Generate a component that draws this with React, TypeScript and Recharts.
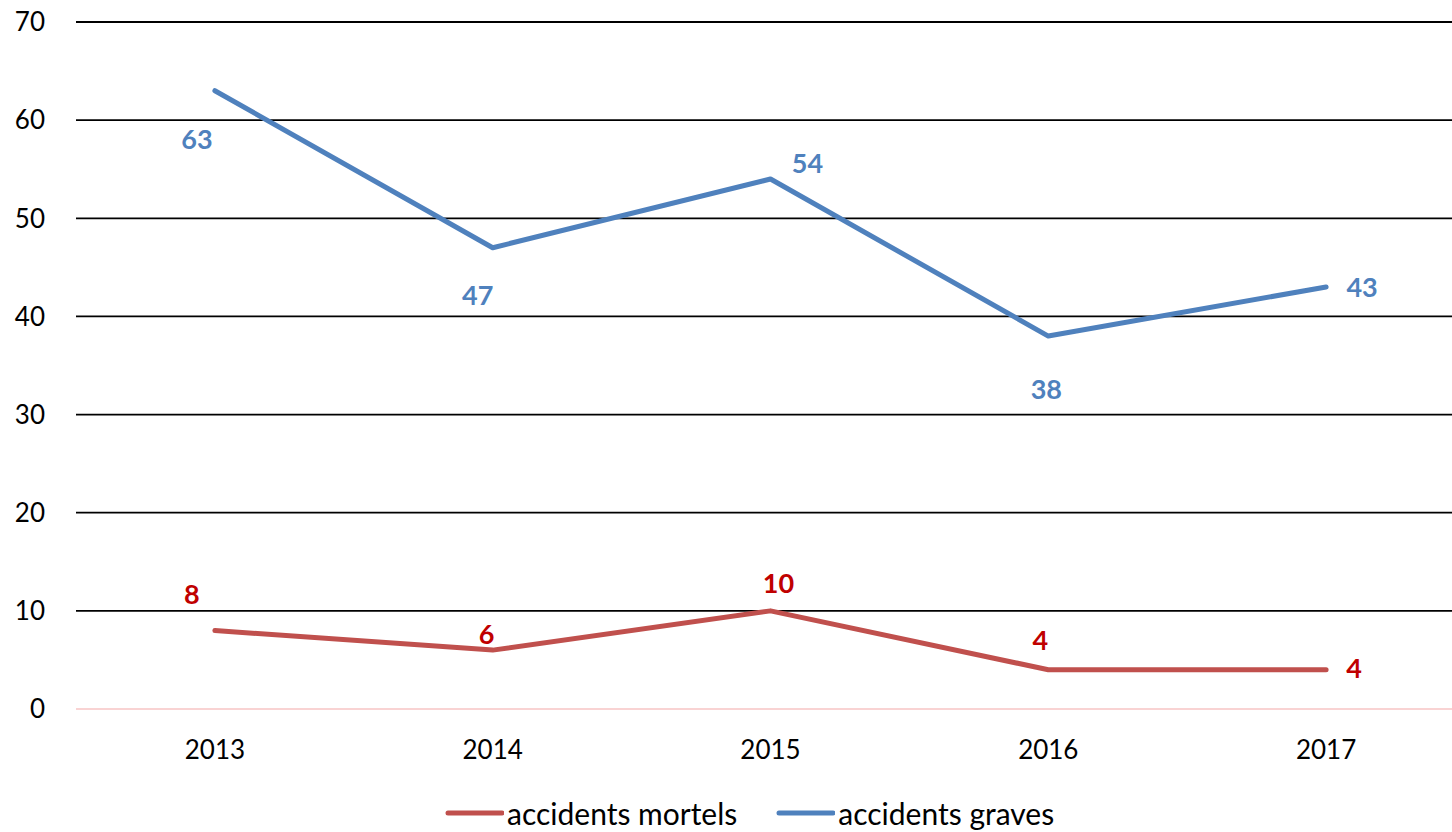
import React from 'react';
import { LineChart, Line, XAxis, YAxis, ReferenceLine } from 'recharts';

const years = ['2013', '2014', '2015', '2016', '2017'];
const mortels = [8, 6, 10, 4, 4];
const graves = [63, 47, 54, 38, 43];
const yTicks = [0, 10, 20, 30, 40, 50, 60, 70];
const seriesNames = ['accidents mortels', 'accidents graves'];

const data = years.map((y, i) => ({ year: y, mortels: mortels[i], graves: graves[i] }));

const gravesOffsets = [[-18, 48], [-15, 47], [37, -17], [-2, 52], [36, 0]];
const mortelsOffsets = [[-23, -37], [-6, -17], [8, -28], [-8, -30], [28, -2]];

const FONT = 'Lato, "Open Sans", sans-serif';
const BLUE = '#4F81BD';
const RED = '#C0504D';
const RED_LABEL = '#C00000';

const makeLabel = (offsets: number[][], color: string) => (props: any) => {
  const { x, y, index, value } = props;
  const o = offsets[index] || [0, -20];
  return (
    <text
      x={x + o[0]}
      y={y + o[1]}
      textAnchor="middle"
      dominantBaseline="central"
      fill={color}
      fontFamily={FONT}
      fontWeight={700}
      fontSize={27}
    >
      {value}
    </text>
  );
};

const LegendBox = () => {
  const items = [
    { name: seriesNames[0], color: RED },
    { name: seriesNames[1], color: BLUE },
  ];
  return (
    <div
      style={{
        position: 'absolute',
        left: 444,
        top: 798,
        display: 'flex',
        alignItems: 'center',
        fontFamily: FONT,
        fontSize: 30,
        color: '#000',
        whiteSpace: 'nowrap',
      }}
    >
      {items.map((it, i) => (
        <div key={it.name} style={{ display: 'flex', alignItems: 'center', marginLeft: i ? 38 : 0 }}>
          <svg width={60} height={8} style={{ display: 'block' }}>
            <line x1={4} y1={4} x2={58} y2={4} stroke={it.color} strokeWidth={5} strokeLinecap="round" />
          </svg>
          <span style={{ marginLeft: 3, lineHeight: '30px' }}>{it.name}</span>
        </div>
      ))}
    </div>
  );
};

export default function App() {
  return (
    <div style={{ position: 'absolute', left: 0, top: 0, width: 1452, height: 832, overflow: 'hidden', background: '#fff' }}>
      <LineChart
        width={1480}
        height={832}
        data={data}
        margin={{ top: 22, right: 15, left: 0, bottom: 63 }}
      >
        {yTicks.filter((t) => t > 0).map((t) => (
          <ReferenceLine key={t} y={t} stroke="#000" strokeWidth={1.8} />
        ))}
        <XAxis
          dataKey="year"
          scale="band"
          axisLine={{ stroke: '#F9D3D3', strokeWidth: 2 }}
          tickLine={false}
          tickSize={0}
          tickMargin={32}
          tick={{ fill: '#000', fontFamily: FONT, fontSize: 26 }}
          height={60}
        />
        <YAxis
          domain={[0, 70]}
          ticks={yTicks}
          width={76}
          axisLine={false}
          tickLine={false}
          tickSize={0}
          tickMargin={31}
          tick={{ fill: '#000', fontFamily: FONT, fontSize: 26 }}
        />
        <Line
          dataKey="mortels"
          name={seriesNames[0]}
          stroke={RED}
          strokeWidth={5}
          strokeLinecap="round"
          strokeLinejoin="round"
          dot={false}
          activeDot={false}
          isAnimationActive={false}
          label={makeLabel(mortelsOffsets, RED_LABEL)}
        />
        <Line
          dataKey="graves"
          name={seriesNames[1]}
          stroke={BLUE}
          strokeWidth={5}
          strokeLinecap="round"
          strokeLinejoin="round"
          dot={false}
          activeDot={false}
          isAnimationActive={false}
          label={makeLabel(gravesOffsets, BLUE)}
        />
      </LineChart>
      <LegendBox />
    </div>
  );
}
